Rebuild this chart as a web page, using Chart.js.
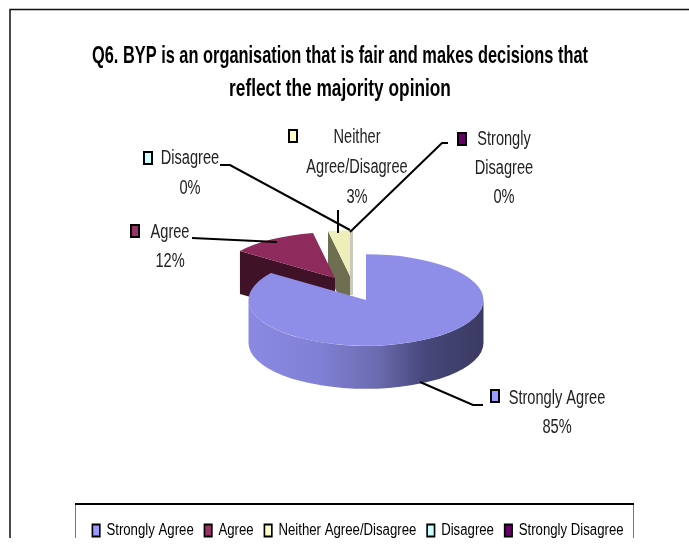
<!DOCTYPE html>
<html>
<head>
<meta charset="utf-8">
<title>Q6 BYP</title>
<script src="https://cdn.jsdelivr.net/npm/chart.js@4"></script>
<style>
html, body { margin: 0; padding: 0; background: #fff; }
#wrap { width: 689px; height: 555px; }
canvas { filter: blur(0.4px); }
</style>
</head>
<body>
<div id="wrap"><canvas id="myChart" width="689" height="555"></canvas></div>
<script>
// survey answers, percent of respondents
var categories = ['Strongly Agree', 'Agree', 'Neither Agree/Disagree', 'Disagree', 'Strongly Disagree'];
var values = [85, 12, 3, 0, 0];
var titleLines = ['Q6. BYP is an organisation that is fair and makes decisions that', 'reflect the majority opinion'];

var topColor = ['#8e8ee9', '#8e2b5c', '#eeeebb', '#ccffff', '#660066'];
var wallColor = ['#5a5a96', '#3f1228', '#6e6e50', '#5a7070', '#2c002c'];
var swatchColor = ['#9999ff', '#993366', '#ffffcc', '#ccffff', '#660066'];

// how the 3d pie sits on the page
var pieX = 366, pieY = 300, pieRadius = 117.5, squash = 0.39, depth = 43;
var pullX = [0, -31, -16, 0, 0];
var pullY = [0, -22, -24, 0, 0];
var drawOrder = [2, 1, 0];

// callouts: text lines get the percent added below them
var calloutLines = [['Strongly Agree'], ['Agree'], ['Neither', 'Agree/Disagree'], ['Disagree'], ['Strongly', 'Disagree']];
var calloutX = [557, 170, 357, 190, 504];
var calloutY = [398, 232, 137, 158, 139];
var calloutStep = [29, 29, 30, 30, 29];
var calloutSwatchX = [495, 135, 293, 148, 462];
var calloutSwatchY = [396, 231, 136, 158, 139];
var leaders = [
    [[420, 382], [473, 405], [483, 405]],
    [[192, 238], [277, 242]],
    [[338, 210], [338, 233]],
    [[220, 165], [230, 165], [350, 230]],
    [[448, 143], [442, 143], [350, 232]]
];

// no narrow font on the box, so text gets squeezed sideways
var textFont = '"Liberation Sans", sans-serif';
var titleSqueeze = 0.72, titleCentre = 340;
var legendSqueeze = 0.825, legendCentre = 358, legendMiddle = 529;
var calloutSqueeze = 0.73;

function rim(arc, i, angle) {
    return [pieX + pullX[i] + Math.cos(angle) * arc.outerRadius,
            pieY + pullY[i] + Math.sin(angle) * arc.outerRadius * squash];
}

function drawWalls(ctx, arc, i) {
    var a0 = arc.startAngle, a1 = arc.endAngle;
    var cx = pieX + pullX[i], cy = pieY + pullY[i];
    // radial wall of the starting edge, when it faces the viewer
    if (Math.sin(a0 - Math.PI / 2) > 0.01) {
        var p = rim(arc, i, a0);
        ctx.fillStyle = wallColor[i];
        ctx.beginPath();
        ctx.moveTo(cx, cy);
        ctx.lineTo(p[0], p[1]);
        ctx.lineTo(p[0], p[1] + depth);
        ctx.lineTo(cx, cy + depth);
        ctx.closePath();
        ctx.fill();
    }
    // outer wall, front half only
    var from = Math.max(a0, 0), to = Math.min(a1, Math.PI);
    if (to > from) {
        var g = ctx.createLinearGradient(cx - arc.outerRadius, 0, cx + arc.outerRadius, 0);
        g.addColorStop(0, '#8a8ae4');
        g.addColorStop(0.3, '#8080d4');
        g.addColorStop(0.55, '#6b6bb0');
        g.addColorStop(0.75, '#47477a');
        g.addColorStop(1, '#3a3a62');
        ctx.fillStyle = g;
        ctx.beginPath();
        ctx.ellipse(cx, cy, arc.outerRadius, arc.outerRadius * squash, 0, from, to);
        ctx.ellipse(cx, cy + depth, arc.outerRadius, arc.outerRadius * squash, 0, to, from, true);
        ctx.closePath();
        ctx.fill();
    }
}

// squeeze one of chart.js's own boxes around a centre line
function squeezeBox(chart, box, factor, centre) {
    var draw = box.draw;
    box.draw = function () {
        var ctx = chart.ctx, mid = (box.left + box.right) / 2;
        ctx.save();
        ctx.translate(centre, 0);
        ctx.scale(factor, 1);
        ctx.translate(-mid, 0);
        draw.apply(box, arguments);
        ctx.restore();
    };
}

var pie3d = {
    id: 'pie3d',
    afterInit: function (chart) {
        squeezeBox(chart, chart.titleBlock, titleSqueeze, titleCentre);
        squeezeBox(chart, chart.legend, legendSqueeze, legendCentre);
    },
    afterLayout: function (chart) {
        chart.legend.top = legendMiddle - chart.legend.height / 2;
    },
    beforeDraw: function (chart) {
        var ctx = chart.ctx;
        ctx.save();
        ctx.strokeStyle = '#111';
        ctx.lineWidth = 1.5;
        ctx.beginPath();
        ctx.moveTo(689, 9.5);
        ctx.lineTo(10, 9.5);
        ctx.lineTo(10, 540);
        ctx.stroke();
        // legend frame
        ctx.strokeStyle = '#777';
        ctx.lineWidth = 1;
        ctx.beginPath();
        ctx.moveTo(75.5, 504);
        ctx.lineTo(75.5, 540);
        ctx.moveTo(633.5, 504);
        ctx.lineTo(633.5, 540);
        ctx.stroke();
        ctx.strokeStyle = '#000';
        ctx.lineWidth = 2;
        ctx.beginPath();
        ctx.moveTo(75, 504);
        ctx.lineTo(634, 504);
        ctx.stroke();
        ctx.restore();
    },
    beforeDatasetDraw: function (chart, args) {
        var ctx = chart.ctx, arcs = chart.getDatasetMeta(args.index).data;
        drawOrder.forEach(function (i) {
            var arc = arcs[i];
            ctx.save();
            // pale edge seen on the right of the small slice
            if (i === 2) {
                ctx.fillStyle = '#c9c9bd';
                ctx.fillRect(pieX + pullX[i], pieY + pullY[i] - arc.outerRadius * squash, 3, arc.outerRadius * squash + depth - 24);
            }
            drawWalls(ctx, arc, i);
            ctx.translate(pieX + pullX[i], pieY + pullY[i]);
            ctx.scale(1, squash);
            ctx.translate(-arc.x, -arc.y);
            arc.draw(ctx);
            ctx.restore();
        });
        return false;
    },
    afterDraw: function (chart) {
        var ctx = chart.ctx;
        ctx.save();
        // leader lines
        ctx.strokeStyle = '#000';
        ctx.lineWidth = 2;
        leaders.forEach(function (pts) {
            ctx.beginPath();
            pts.forEach(function (p, k) {
                if (k === 0) ctx.moveTo(p[0], p[1]); else ctx.lineTo(p[0], p[1]);
            });
            ctx.stroke();
        });
        // callout text
        ctx.fillStyle = '#222';
        ctx.font = '20px ' + textFont;
        ctx.textAlign = 'center';
        ctx.textBaseline = 'middle';
        categories.forEach(function (name, i) {
            var lines = calloutLines[i].concat(values[i] + '%');
            lines.forEach(function (line, k) {
                ctx.save();
                ctx.translate(calloutX[i], calloutY[i] + k * calloutStep[i]);
                ctx.scale(calloutSqueeze, 1);
                ctx.fillText(line, 0, 0);
                ctx.restore();
            });
            ctx.save();
            ctx.fillStyle = swatchColor[i];
            ctx.strokeStyle = '#000';
            ctx.lineWidth = 2;
            ctx.fillRect(calloutSwatchX[i] - 4, calloutSwatchY[i] - 6, 8, 12);
            ctx.strokeRect(calloutSwatchX[i] - 4, calloutSwatchY[i] - 6, 8, 12);
            ctx.restore();
        });
        // the picture is cut off under the legend
        ctx.fillStyle = '#fff';
        ctx.fillRect(0, 538, 689, 17);
        ctx.restore();
    }
};

var ctx = document.getElementById('myChart').getContext('2d');
var myChart = new Chart(ctx, {
    type: 'pie',
    data: {
        labels: categories,
        datasets: [{
            data: values,
            backgroundColor: topColor,
            borderWidth: 0,
            radius: pieRadius
        }]
    },
    options: {
        responsive: false,
        animation: false,
        plugins: {
            tooltip: { enabled: false },
            title: {
                display: true,
                text: titleLines,
                color: '#000',
                font: { family: textFont, size: 24, weight: 'bold', lineHeight: 1.38 },
                padding: { top: 40, bottom: 0 }
            },
            legend: {
                position: 'bottom',
                labels: {
                    color: '#222',
                    boxWidth: 9,
                    boxHeight: 12,
                    padding: 13,
                    font: { family: textFont, size: 16 },
                    generateLabels: function () {
                        return categories.map(function (name, i) {
                            return { text: name, fillStyle: swatchColor[i], strokeStyle: '#000', lineWidth: 2, index: i };
                        });
                    }
                }
            }
        }
    },
    plugins: [pie3d]
});
</script>
</body>
</html>
